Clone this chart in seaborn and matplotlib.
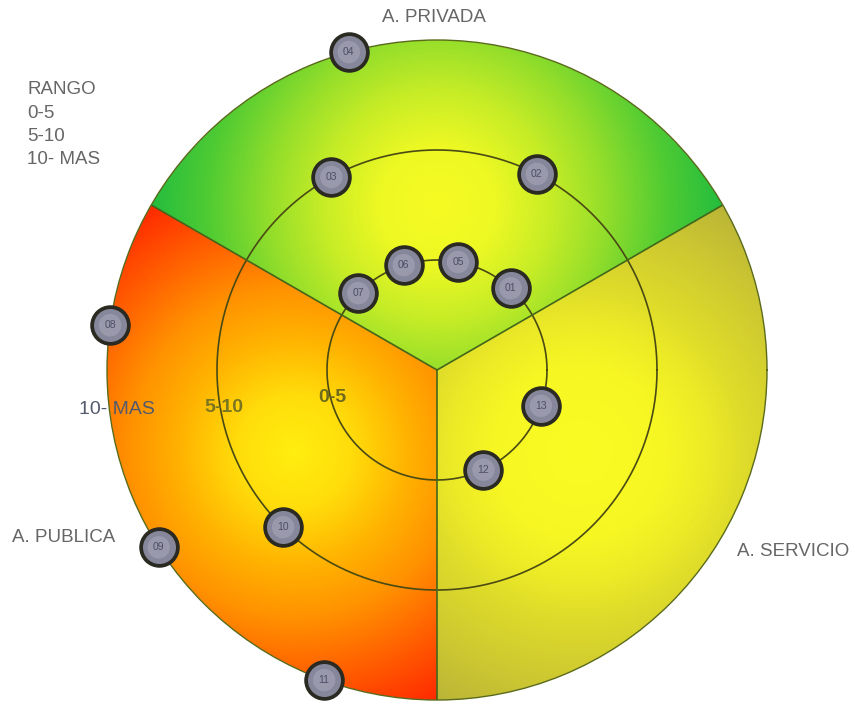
import numpy as np
import pandas as pd
import matplotlib
matplotlib.use("Agg")
import matplotlib.pyplot as plt
import seaborn as sns

# ---------------- data ----------------
labels = ["01", "02", "03", "04", "05", "06", "07", "08", "09", "10", "11", "12", "13"]
ring_radius = [5, 10, 10, 15, 5, 5, 5, 15, 15, 10, 15, 5, 5]          # 0-5 -> 5, 5-10 -> 10, 10-MAS -> 15
angle_deg = [48, 63, 118.7, 105.5, 79, 107.6, 135.7, 172.2, 212.5, 225.6, 250, 295, 341]

sector_names = ["A. PRIVADA", "A. PUBLICA", "A. SERVICIO"]
sector_start_deg = [30, 150, 270]
ring_edges = [5, 10, 15]
ring_labels = ["0-5", "5-10", "10- MAS"]
legend_title = "RANGO"

# ---------------- style ----------------
sns.set_theme(style="white")
plt.rcParams["font.family"] = ["Liberation Sans", "DejaVu Sans"]

W, H = 855, 709
fig = plt.figure(figsize=(W / 100, H / 100), dpi=100)
cx, cy, R = 437, 370, 330
ax = fig.add_axes([(cx - R) / W, (H - cy - R) / H, 2 * R / W, 2 * R / H], projection="polar")
ax.set_facecolor("none")
rmax = ring_edges[-1]
ax.set_ylim(0, rmax)

# ---------------- gradient background ----------------
ramps = {
    30: [(0.0, (246, 250, 35)), (0.2, (238, 248, 35)), (0.4, (198, 236, 38)),
         (0.58, (150, 222, 42)), (0.8, (80, 203, 50)), (1.0, (35, 188, 62))],
    150: [(0.0, (255, 238, 15)), (0.2, (255, 220, 10)), (0.4, (255, 178, 0)),
          (0.58, (255, 145, 0)), (0.8, (255, 90, 0)), (1.0, (255, 40, 0))],
    270: [(0.0, (250, 250, 35)), (0.3, (246, 246, 35)), (0.45, (236, 234, 38)),
          (0.58, (222, 219, 42)), (0.8, (205, 200, 48)), (1.0, (186, 180, 55))],
}
focal_frac = {30: 0.5, 150: 0.5, 270: 0.5}


def ramp_color(stops, t):
    ts = np.array([s[0] for s in stops])
    cols = np.array([s[1] for s in stops], dtype=float) / 255.0
    out = np.zeros(t.shape + (3,))
    for c in range(3):
        out[..., c] = np.interp(t, ts, cols[:, c])
    return out


th_e = np.linspace(0, 2 * np.pi, 1081)
r_e = np.linspace(0, rmax, 201)
th_c = 0.5 * (th_e[1:] + th_e[:-1])
r_c = 0.5 * (r_e[1:] + r_e[:-1])
TC, RC = np.meshgrid(th_c, r_c)
X, Y = RC * np.cos(TC), RC * np.sin(TC)
deg = np.degrees(TC) % 360
rgb = np.zeros(TC.shape + (3,))
for start in sector_start_deg:
    mid = np.radians(start + 60)
    in_sec = ((deg - start) % 360) < 120
    fx, fy = focal_frac[start] * rmax * np.cos(mid), focal_frac[start] * rmax * np.sin(mid)
    dmax = np.hypot(rmax * np.cos(np.radians(start)) - fx, rmax * np.sin(np.radians(start)) - fy)
    t = np.clip(np.hypot(X - fx, Y - fy) / dmax, 0, 1)
    col = ramp_color(ramps[start], t)
    rgb[in_sec] = col[in_sec]
TE, RE = np.meshgrid(th_e, r_e)
ax.pcolormesh(TE, RE, rgb, shading="flat", rasterized=True, zorder=0)

# ---------------- rings and sector lines ----------------
line_col = "#4a4a14"
tt = np.linspace(0, 2 * np.pi, 400)
for r in ring_edges[:-1]:
    ax.plot(tt, np.full_like(tt, r), color=line_col, lw=1.2, zorder=2)
for start in sector_start_deg:
    ax.plot([np.radians(start)] * 2, [0, rmax], color="#44661a", lw=1.2, zorder=2)

ax.grid(False)
ax.set_xticks([])
ax.set_yticks([])
ax.spines["polar"].set_color("#5a6a1a")
ax.spines["polar"].set_linewidth(1.0)

# ---------------- markers ----------------
df = pd.DataFrame({"label": labels, "r": ring_radius, "theta": np.radians(angle_deg)})
sns.scatterplot(data=df, x="theta", y="r", ax=ax, s=700, color="#86879a",
                edgecolor="#2a2a22", linewidth=2.7, legend=False, zorder=5, clip_on=False)
sns.scatterplot(data=df, x="theta", y="r", ax=ax, s=260, color="#a0a0b2",
                edgecolor="none", linewidth=0, legend=False, zorder=6, clip_on=False, alpha=0.75)
for _, row in df.iterrows():
    ax.text(row["theta"], row["r"], row["label"], ha="center", va="center",
            fontsize=7.5, color="#4e4e66", zorder=7, clip_on=False)
ax.set_xlabel("")
ax.set_ylabel("")
ax.set_ylim(0, rmax)


# ---------------- texts ----------------
def ftext(x, y, s, **kw):
    fig.text(x / W, 1 - y / H, s, **kw)


txt_col = "#666666"
ftext(434, 18, sector_names[0], ha="center", va="center", fontsize=13.5, color=txt_col)
ftext(12, 537, sector_names[1], ha="left", va="center", fontsize=13.5, color=txt_col)
ftext(737, 551, sector_names[2], ha="left", va="center", fontsize=13.5, color=txt_col)

ftext(27, 90, legend_title, ha="left", va="center", fontsize=13.5, color=txt_col)
for i, lab in enumerate(ring_labels):
    ftext(27, 113 + 23.5 * i, lab, ha="left", va="center", fontsize=13.5, color=txt_col)

ftext(332, 397, ring_labels[0], ha="center", va="center", fontsize=14, color="#6e6c1c", fontweight="bold")
ftext(224, 407, ring_labels[1], ha="center", va="center", fontsize=14, color="#7a7620", fontweight="bold")
ftext(117, 410, ring_labels[2], ha="center", va="center", fontsize=14, color="#535a6c")

fig.savefig("out.png", dpi=100)
